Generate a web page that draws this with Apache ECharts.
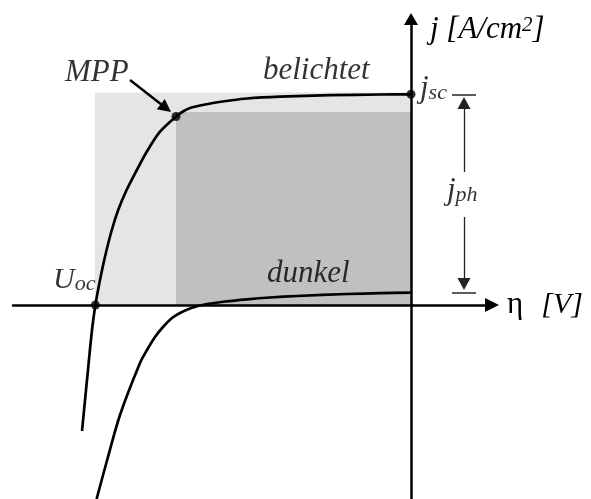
<!DOCTYPE html>
<html>
<head>
<meta charset="utf-8">
<script src="https://cdn.jsdelivr.net/npm/echarts@6/dist/echarts.min.js"></script>
<style>
  html, body { margin: 0; padding: 0; background: #fff; }
  #chart { width: 591px; height: 499px; }
</style>
</head>
<body>
<div id="chart"></div>
<script>
// Current density j versus overpotential η of a solar cell, illuminated and dark.
// η in V, j in mA/cm² (schematic values).
const etaLight = [-0.8225, -0.81, -0.7975, -0.789, -0.7775, -0.765, -0.748, -0.732, -0.711, -0.686,
                  -0.661, -0.6275, -0.5875, -0.57, -0.5525, -0.5275, -0.495, -0.4525, -0.41, -0.3275,
                  -0.2025, -0.0775, 0];
const jLight   = [-12.6, -7.5, -2.5, 0, 2.5, 4.83, 7.5, 9.5, 11.5, 13.45,
                  15.3, 17.33, 18.85, 19.35, 19.7, 19.95, 20.2, 20.45, 20.65, 20.83,
                  20.98, 21.05, 21.07];

const etaDark = [-0.786, -0.761, -0.7275, -0.6775, -0.66, -0.64, -0.62, -0.5975, -0.5775, -0.5525,
                 -0.5275, -0.51, -0.465, -0.41, -0.3525, -0.285, -0.16, -0.0775, 0];
const jDark   = [-19.4, -15.7, -11.0, -5.8, -4.5, -3.2, -2.2, -1.3, -0.8, -0.35,
                 -0.05, 0.1, 0.35, 0.57, 0.75, 0.9, 1.1, 1.18, 1.23];

// Characteristic points: open-circuit voltage, maximum power point, short-circuit current
const pointUoc = [-0.789, 0];
const pointMpp = [-0.5875, 18.85];
const pointJsc = [0, 21.07];
const jDarkZero = 1.23;

// Shaded areas: full rectangle Uoc·jsc and the maximum power rectangle
const areaFull = [[-0.79, 0], [0, 21.25]];
const areaMpp  = [[-0.5875, 0], [0, 19.3]];

// Photocurrent marker (η position, bar half-width) and arrow segments
const jphEta = 0.1325;
const jphBarHalf = 0.03;
const jphArrowUp   = [[jphEta, 13.3], [jphEta, 20.2]];
const jphArrowDown = [[jphEta, 8.8], [jphEta, 2.1]];

// Pointer to the maximum power point
const mppPointer = [[-0.7025, 22.5], [-0.6128, 19.7]];

// Axis ranges
const etaRange = [-0.995, 0.2025];
const jRange = [-19.4, 28.6];

// Annotation texts and their anchors (η, j)
const labelTexts   = ['MPP', 'belichtet', 'dunkel', '{m|U}{s|oc}', '{m|j}{s|sc}', '{m|j}{s|ph}'];
const labelAnchors = [[-0.865, 23.25], [-0.37, 23.45], [-0.36, 3.15], [-0.895, 3.95], [0.0225, 23.2], [0.09, 13.0]];

const FONT = 'Liberation Serif';

function plainText(size) {
  return { fontFamily: FONT, fontStyle: 'italic', fontSize: size, color: '#000',
           align: 'left', verticalAlign: 'middle' };
}
// main letter with a lowered subscript
function subText(F, f, drop) {
  const p = Math.max(0, drop - 0.195 * (F - f));
  return {
    fontFamily: FONT, fontStyle: 'italic', color: '#000', align: 'left', verticalAlign: 'top',
    rich: {
      m: { fontFamily: FONT, fontStyle: 'italic', fontSize: F, lineHeight: F, verticalAlign: 'top', padding: [0, 0, p, 0], color: '#000' },
      s: { fontFamily: FONT, fontStyle: 'italic', fontSize: f, lineHeight: f, verticalAlign: 'bottom', color: '#000' }
    }
  };
}
const labelStyles = [plainText(31), plainText(31), plainText(31), subText(30, 22, 10), subText(31, 22, 4), subText(31, 22, 7)];

const chart = echarts.init(document.getElementById('chart'), null, { renderer: 'canvas' });

const toPairs = (xs, ys) => xs.map((x, i) => [x, ys[i]]);

chart.setOption({
  animation: false,
  backgroundColor: '#fff',
  textStyle: { fontFamily: FONT },
  grid: { left: 13, right: 99, top: 19, bottom: 0, containLabel: false },
  xAxis: {
    type: 'value', min: etaRange[0], max: etaRange[1], z: 10,
    axisLine: { onZero: true, symbol: ['none', 'triangle'], symbolSize: [14, 14],
                lineStyle: { color: '#000', width: 2.5 } },
    axisTick: { show: false }, axisLabel: { show: false }, splitLine: { show: false },
    name: '{e|η}{v|[V]}', nameLocation: 'end', nameGap: 15,
    nameTextStyle: {
      fontFamily: FONT, align: 'left', verticalAlign: 'middle',
      rich: {
        e: { fontFamily: FONT, fontSize: 31, color: '#000' },
        v: { fontFamily: FONT, fontStyle: 'italic', fontSize: 30, color: '#000', padding: [0, 0, 0, 18] }
      }
    }
  },
  yAxis: {
    type: 'value', min: jRange[0], max: jRange[1], z: 10,
    axisLine: { onZero: true, symbol: ['none', 'triangle'], symbolSize: [14, 12],
                lineStyle: { color: '#000', width: 2.5 } },
    axisTick: { show: false }, axisLabel: { show: false }, splitLine: { show: false },
    name: '{a|j [A/cm}{p|2}{a|]}', nameLocation: 'end', nameGap: -11,
    nameTextStyle: {
      fontFamily: FONT, align: 'left', verticalAlign: 'middle', padding: [0, 0, 0, 19],
      rich: {
        a: { fontFamily: FONT, fontStyle: 'italic', fontSize: 31, lineHeight: 31, verticalAlign: 'bottom', padding: [2, 0, 0, 0], color: '#000' },
        p: { fontFamily: FONT, fontStyle: 'italic', fontSize: 21, lineHeight: 21, verticalAlign: 'top', color: '#000' }
      }
    }
  },
  series: [
    {
      name: 'areas', type: 'line', data: [], z: 1, silent: true,
      markArea: {
        silent: true,
        data: [
          [{ coord: areaFull[0], itemStyle: { color: '#e5e5e5' } }, { coord: areaFull[1] }],
          [{ coord: areaMpp[0], itemStyle: { color: '#c0c0c0' } }, { coord: areaMpp[1] }]
        ]
      }
    },
    {
      name: 'dunkel', type: 'line', data: toPairs(etaDark, jDark), z: 5,
      showSymbol: false, smooth: 0.3,
      lineStyle: { color: '#000', width: 2.7 }
    },
    {
      name: 'belichtet', type: 'line', data: toPairs(etaLight, jLight), z: 5,
      showSymbol: false, smooth: 0.3,
      lineStyle: { color: '#000', width: 2.7 }
    },
    {
      name: 'points', type: 'scatter', z: 6, symbolSize: 9,
      itemStyle: { color: '#000' },
      data: [pointUoc, pointMpp, pointJsc]
    },
    {
      name: 'pointers', type: 'line', data: [], z: 6, silent: true,
      markLine: {
        silent: true, symbol: ['none', 'triangle'], symbolSize: [13, 13],
        label: { show: false },
        lineStyle: { color: '#000', width: 2.5, type: 'solid' },
        data: [[{ coord: mppPointer[0] }, { coord: mppPointer[1] }]]
      }
    },
    {
      name: 'jph arrows', type: 'line', data: [], z: 6, silent: true,
      markLine: {
        silent: true, symbol: ['none', 'triangle'], symbolSize: [13, 12],
        label: { show: false },
        lineStyle: { color: '#222', width: 1.3, type: 'solid' },
        data: [
          [{ coord: jphArrowUp[0] }, { coord: jphArrowUp[1] }],
          [{ coord: jphArrowDown[0] }, { coord: jphArrowDown[1] }]
        ]
      }
    },
    {
      name: 'jph bars', type: 'line', data: [], z: 6, silent: true,
      markLine: {
        silent: true, symbol: 'none',
        label: { show: false },
        lineStyle: { color: '#333', width: 1.6, type: 'solid' },
        data: [
          [{ coord: [jphEta - jphBarHalf, pointJsc[1]] }, { coord: [jphEta + jphBarHalf, pointJsc[1]] }],
          [{ coord: [jphEta - jphBarHalf, jDarkZero] }, { coord: [jphEta + jphBarHalf, jDarkZero] }]
        ]
      }
    },
    {
      name: 'labels', type: 'scatter', z: 7, silent: true, clip: false,
      symbolSize: 1, itemStyle: { color: 'transparent' },
      data: labelTexts.map((t, i) => ({
        value: labelAnchors[i],
        label: Object.assign({ show: true, position: 'inside', formatter: t }, labelStyles[i])
      }))
    }
  ]
});
</script>
</body>
</html>
